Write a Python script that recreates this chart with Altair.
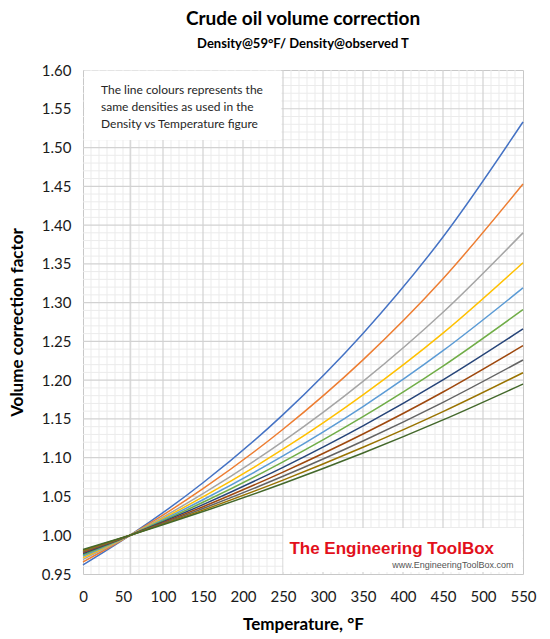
import altair as alt
import pandas as pd
import numpy as np

# ---------------- data ----------------
temperature_f = [0, 59, 150, 250, 350, 450, 550]
vcf_1 = [0.9616, 1.0, 1.0677, 1.1556, 1.2603, 1.3847, 1.5330]
vcf_2 = [0.9655, 1.0, 1.0600, 1.1367, 1.2262, 1.3308, 1.4530]
vcf_3 = [0.9688, 1.0, 1.0536, 1.1210, 1.1984, 1.2875, 1.3900]
vcf_4 = [0.9710, 1.0, 1.0494, 1.1109, 1.1810, 1.2607, 1.3515]
vcf_5 = [0.9730, 1.0, 1.0458, 1.1023, 1.1660, 1.2380, 1.3190]
vcf_6 = [0.9747, 1.0, 1.0425, 1.0946, 1.1529, 1.2181, 1.2910]
vcf_7 = [0.9764, 1.0, 1.0395, 1.0876, 1.1410, 1.2003, 1.2660]
vcf_8 = [0.9779, 1.0, 1.0368, 1.0814, 1.1305, 1.1847, 1.2445]
vcf_9 = [0.9792, 1.0, 1.0345, 1.0760, 1.1215, 1.1714, 1.2260]
vcf_10 = [0.9804, 1.0, 1.0324, 1.0711, 1.1134, 1.1594, 1.2096]
vcf_11 = [0.9815, 1.0, 1.0305, 1.0667, 1.1060, 1.1487, 1.1950]

series_values = [vcf_1, vcf_2, vcf_3, vcf_4, vcf_5, vcf_6, vcf_7, vcf_8, vcf_9, vcf_10, vcf_11]
series_names = [f"s{i + 1:02d}" for i in range(len(series_values))]
series_colors = ["#4472C4", "#ED7D31", "#A5A5A5", "#FFC000", "#5B9BD5", "#70AD47",
                 "#264478", "#9E480E", "#636363", "#997300", "#43682B"]

x_ticks = [0, 50, 100, 150, 200, 250, 300, 350, 400, 450, 500, 550]
y_ticks = [0.95, 1.00, 1.05, 1.10, 1.15, 1.20, 1.25, 1.30, 1.35, 1.40, 1.45, 1.50, 1.55, 1.60]

note_lines = ["The line colours represents the",
              "same densities as used in the",
              "Density vs Temperature figure"]
logo_text = "The Engineering ToolBox"
logo_url = "www.EngineeringToolBox.com"

# ---------------- tables ----------------
rows = []
for name, vals in zip(series_names, series_values):
    for t, v in zip(temperature_f, vals):
        rows.append({"T": t, "V": v, "series": name})
lines_df = pd.DataFrame(rows)

x_major = [59] + list(range(100, 550, 50))
x_minor = [t for t in range(10, 550, 10) if t not in x_major]
y_major = [round(0.95 + 0.05 * k, 2) for k in range(1, 13)]
y_minor = [round(0.95 + 0.01 * k, 2) for k in range(1, 65) if k % 5 != 0]

xs = alt.Scale(domain=[0, 550], nice=False, zero=False)
ys = alt.Scale(domain=[0.95, 1.60], nice=False, zero=False)
x_axis = alt.Axis(values=x_ticks, title="Temperature, °F", format="d",
                  labelPadding=15, titlePadding=12, labelFlush=False)
y_axis = alt.Axis(values=y_ticks, title="Volume correction factor", format=".2f",
                  labelPadding=12, titlePadding=15, labelFlush=False)


def X(field="T"):
    return alt.X(f"{field}:Q", scale=xs, axis=x_axis)


def Y(field="V"):
    return alt.Y(f"{field}:Q", scale=ys, axis=y_axis)


minor_v = alt.Chart(pd.DataFrame({"T": x_minor})).mark_rule(
    color="#ebebeb", strokeWidth=1).encode(x=X())
minor_h = alt.Chart(pd.DataFrame({"V": y_minor})).mark_rule(
    color="#ebebeb", strokeWidth=1).encode(y=Y())
major_v = alt.Chart(pd.DataFrame({"T": x_major})).mark_rule(
    color="#d2d2d2", strokeWidth=1.2).encode(x=X())
major_h = alt.Chart(pd.DataFrame({"V": y_major})).mark_rule(
    color="#d2d2d2", strokeWidth=1.2).encode(y=Y())

note_box = alt.Chart(pd.DataFrame({"T": [1.5], "T2": [248], "V": [1.5995], "V2": [1.5097]})).mark_rect(
    color="white").encode(x=X(), x2="T2:Q", y=Y(), y2="V2:Q")
note_text = alt.Chart(pd.DataFrame({"T": [22.5] * 3, "V": [1.5742, 1.5523, 1.5304],
                                    "txt": note_lines})).mark_text(
    align="left", baseline="middle", font="Lato", fontSize=12, color="#262626").encode(
    x=X(), y=Y(), text="txt:N")

lines = alt.Chart(lines_df).mark_line(interpolate="monotone", strokeWidth=1.5).encode(
    x=X(), y=Y(),
    color=alt.Color("series:N", scale=alt.Scale(domain=series_names, range=series_colors), legend=None),
    order="T:Q",
)

logo_box = alt.Chart(pd.DataFrame({"T": [250.5], "T2": [549.5], "V": [1.0093], "V2": [0.9526]})).mark_rect(
    color="white").encode(x=X(), x2="T2:Q", y=Y(), y2="V2:Q")
logo_main = alt.Chart(pd.DataFrame({"T": [258], "V": [0.9760], "txt": [logo_text]})).mark_text(
    align="left", baseline="alphabetic", font="Liberation Sans",
    fontWeight="bold", fontSize=17, color="#E2101B").encode(x=X(), y=Y(), text="txt:N")
logo_sub = alt.Chart(pd.DataFrame({"T": [538], "V": [0.9615], "txt": [logo_url]})).mark_text(
    align="right", baseline="middle", font="Liberation Sans", fontSize=9,
    color="#555555").encode(x=X(), y=Y(), text="txt:N")

chart = alt.layer(
    minor_v, minor_h, major_v, major_h, note_box, note_text, lines, logo_box, logo_main, logo_sub
).properties(
    width=440, height=504,
    autosize=alt.AutoSizeParams(type="none"),
    padding={"left": 75, "top": 62, "right": 15, "bottom": 60},
    title=alt.TitleParams(
        text="Crude oil volume correction",
        subtitle="Density@59°F/ Density@observed T",
        font="Lato", fontSize=19, fontWeight="bold", color="#000000",
        subtitleFont="Lato", subtitleFontSize=13, subtitleFontWeight="bold", subtitleColor="#000000",
        anchor="middle", frame="group", offset=12, subtitlePadding=9,
    ),
).configure_view(
    stroke="#c8c8c8", strokeWidth=1
).configure_axis(
    grid=False, ticks=False, domain=False,
    labelFont="Lato", labelFontSize=15, labelColor="#1a1a1a",
    titleFont="Lato", titleFontSize=17, titleFontWeight="bold", titleColor="#000000",
)

chart.save("out.html", embed_options={"renderer": "svg", "actions": False})
